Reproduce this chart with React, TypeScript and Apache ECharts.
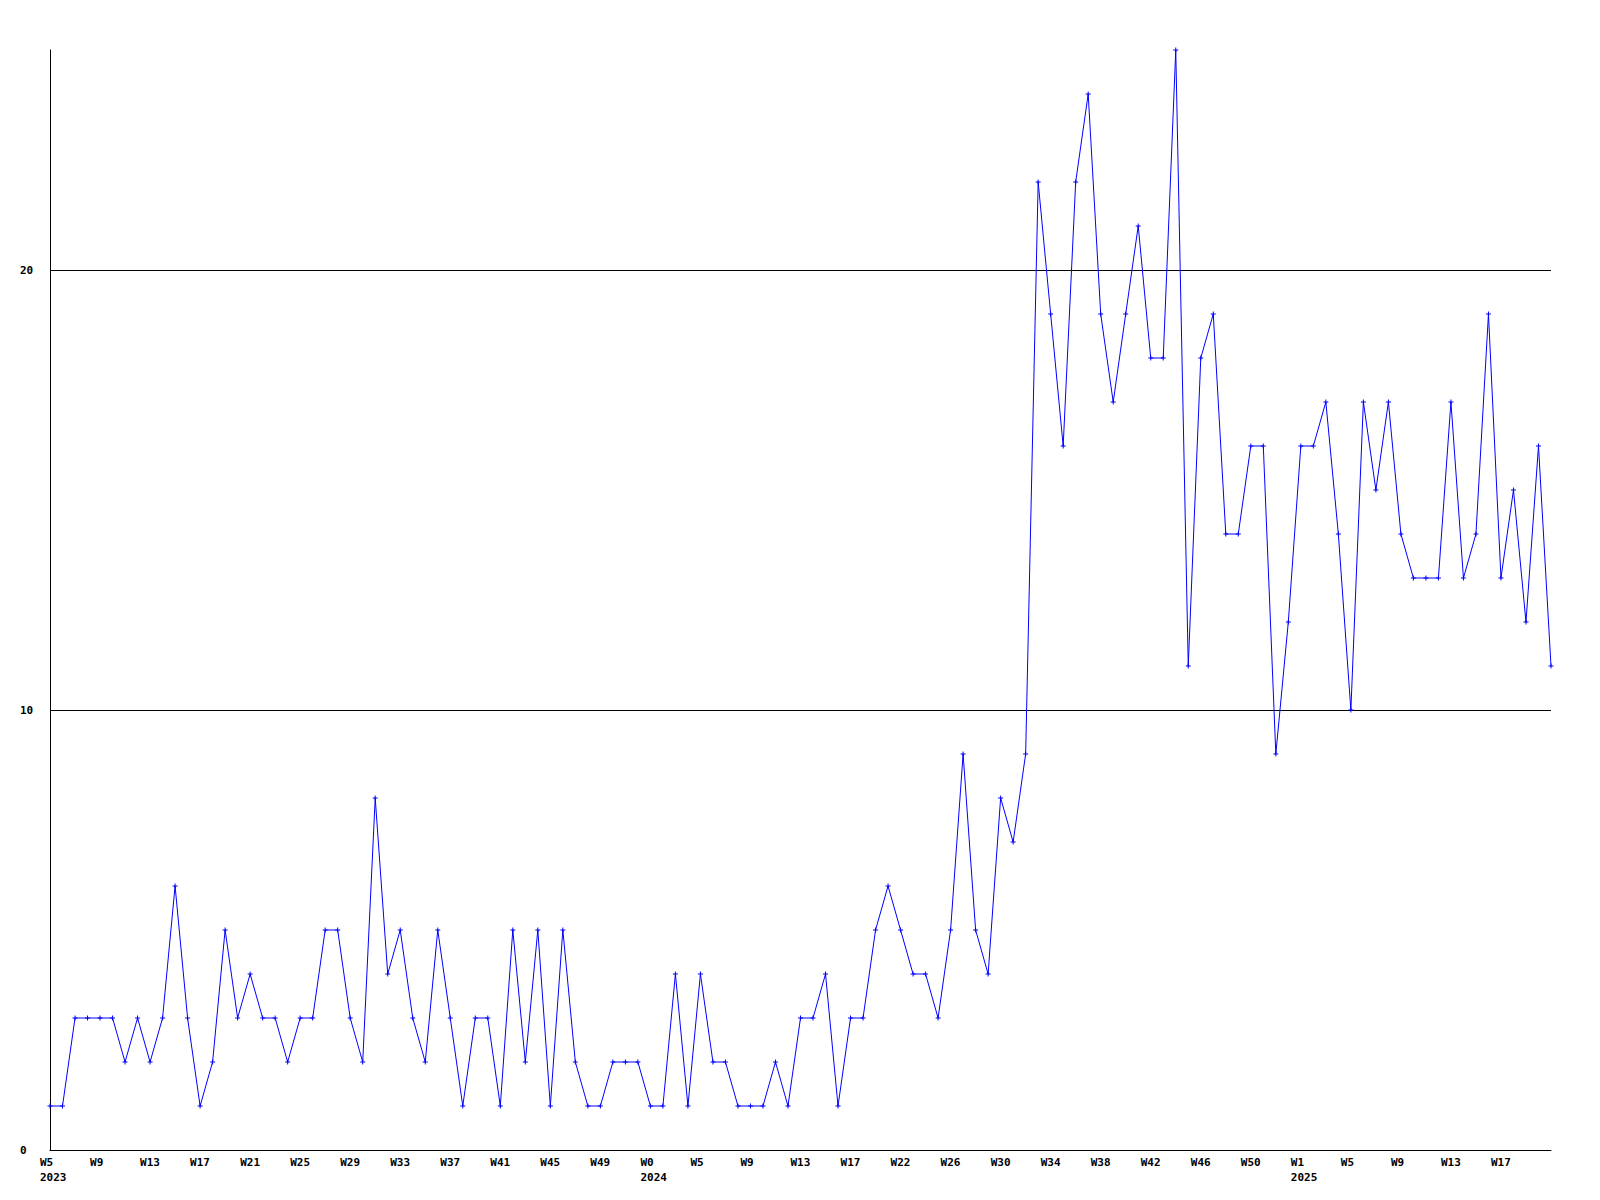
import React, { useEffect, useRef } from "react";
import * as echarts from "echarts";

// one value per week, starting at 2023 W5
const values: number[] = [
  1, 1, 3, 3, 3, 3, 2, 3, 2, 3,
  6, 3, 1, 2, 5, 3, 4, 3, 3, 2,
  3, 3, 5, 5, 3, 2, 8, 4, 5, 3,
  2, 5, 3, 1, 3, 3, 1, 5, 2, 5,
  1, 5, 2, 1, 1, 2, 2, 2, 1, 1,
  4, 1, 4, 2, 2, 1, 1, 1, 2, 1,
  3, 3, 4, 1, 3, 3, 5, 6, 5, 4,
  4, 3, 5, 9, 5, 4, 8, 7, 9, 22,
  19, 16, 22, 24, 19, 17, 19, 21, 18, 18,
  25, 11, 18, 19, 14, 14, 16, 16, 9, 12,
  16, 16, 17, 14, 10, 17, 15, 17, 14, 13,
  13, 13, 17, 13, 14, 19, 13, 15, 12, 16,
  11,
];

// tick labels, one every 4 weeks
const weekLabels: string[] = [
  "W5", "W9", "W13", "W17", "W21", "W25", "W29", "W33", "W37", "W41", "W45", "W49",
  "W0", "W5", "W9", "W13", "W17", "W22", "W26", "W30", "W34", "W38", "W42", "W46", "W50",
  "W1", "W5", "W9", "W13", "W17",
];
// year shown under the first tick label of each year (index into weekLabels)
const yearMarks: { tick: number; year: string }[] = [
  { tick: 0, year: "2023" },
  { tick: 12, year: "2024" },
  { tick: 25, year: "2025" },
];
const tickEvery = 4;
const yTicks: number[] = [0, 10, 20];
const gridValues: number[] = [10, 20];

const FONT = "'DejaVu Sans Mono', 'Liberation Mono', monospace";

export default function App() {
  const ref = useRef<HTMLDivElement>(null);

  useEffect(() => {
    if (!ref.current) return;
    const chart = echarts.init(ref.current, undefined, { renderer: "svg" });

    const cats = values.map((_, i) => String(i));
    const labelFor = (i: number): string => {
      if (i % tickEvery !== 0) return "";
      const t = i / tickEvery;
      if (t >= weekLabels.length) return "";
      const y = yearMarks.find((m) => m.tick === t);
      return y ? `${weekLabels[t]}\n${y.year}` : weekLabels[t];
    };

    const plusSymbol = "path://M2,0H3V2H5V3H3V5H2V3H0V2H2Z";

    chart.setOption({
      animation: false,
      backgroundColor: "#ffffff",
      grid: [
        { left: 50, right: 49, top: 50, bottom: 50 },
        { left: 40, right: 59, top: 50, bottom: 50 },
      ],
      xAxis: [
        {
          type: "category",
          gridIndex: 0,
          data: cats,
          boundaryGap: false,
          axisLine: { show: true, lineStyle: { color: "#000", width: 1 } },
          axisTick: { show: false },
          axisLabel: { show: false },
          splitLine: { show: false },
        },
        {
          type: "category",
          gridIndex: 1,
          data: cats,
          boundaryGap: false,
          axisLine: { show: false },
          axisTick: { show: false },
          splitLine: { show: false },
          axisLabel: {
            show: true,
            interval: 0,
            align: "left",
            margin: 5,
            color: "#000",
            fontFamily: FONT,
            fontWeight: "bold",
            fontSize: 11,
            lineHeight: 15,
            formatter: (v: string) => labelFor(Number(v)),
          },
        },
      ],
      yAxis: [
        {
          type: "value",
          gridIndex: 0,
          min: 0,
          max: 25,
          interval: 10,
          axisLine: { show: true, lineStyle: { color: "#000", width: 1 } },
          axisTick: { show: false },
          splitLine: { show: false },
          axisLabel: {
            customValues: yTicks,
            align: "left",
            margin: 30,
            color: "#000",
            fontFamily: FONT,
            fontWeight: "bold",
            fontSize: 11,
          },
        },
        {
          type: "value",
          gridIndex: 1,
          min: 0,
          max: 25,
          show: false,
        },
      ],
      series: [
        {
          type: "line",
          xAxisIndex: 0,
          yAxisIndex: 0,
          data: values,
          symbol: plusSymbol,
          symbolSize: 5,
          showAllSymbol: true,
          lineStyle: { color: "#0000ff", width: 1 },
          itemStyle: { color: "#0000ff" },
          markLine: {
            silent: true,
            symbol: ["none", "none"],
            label: { show: false },
            lineStyle: { color: "#000", width: 1, type: "solid" },
            emphasis: { disabled: true },
            data: gridValues.map((g) => ({ yAxis: g })),
            z: 1,
          },
          z: 3,
        },
      ],
    });

    return () => chart.dispose();
  }, []);

  return (
    <div
      ref={ref}
      style={{
        position: "absolute",
        left: 0,
        top: 0,
        width: 1600,
        height: 1200,
        background: "#fff",
      }}
    />
  );
}
